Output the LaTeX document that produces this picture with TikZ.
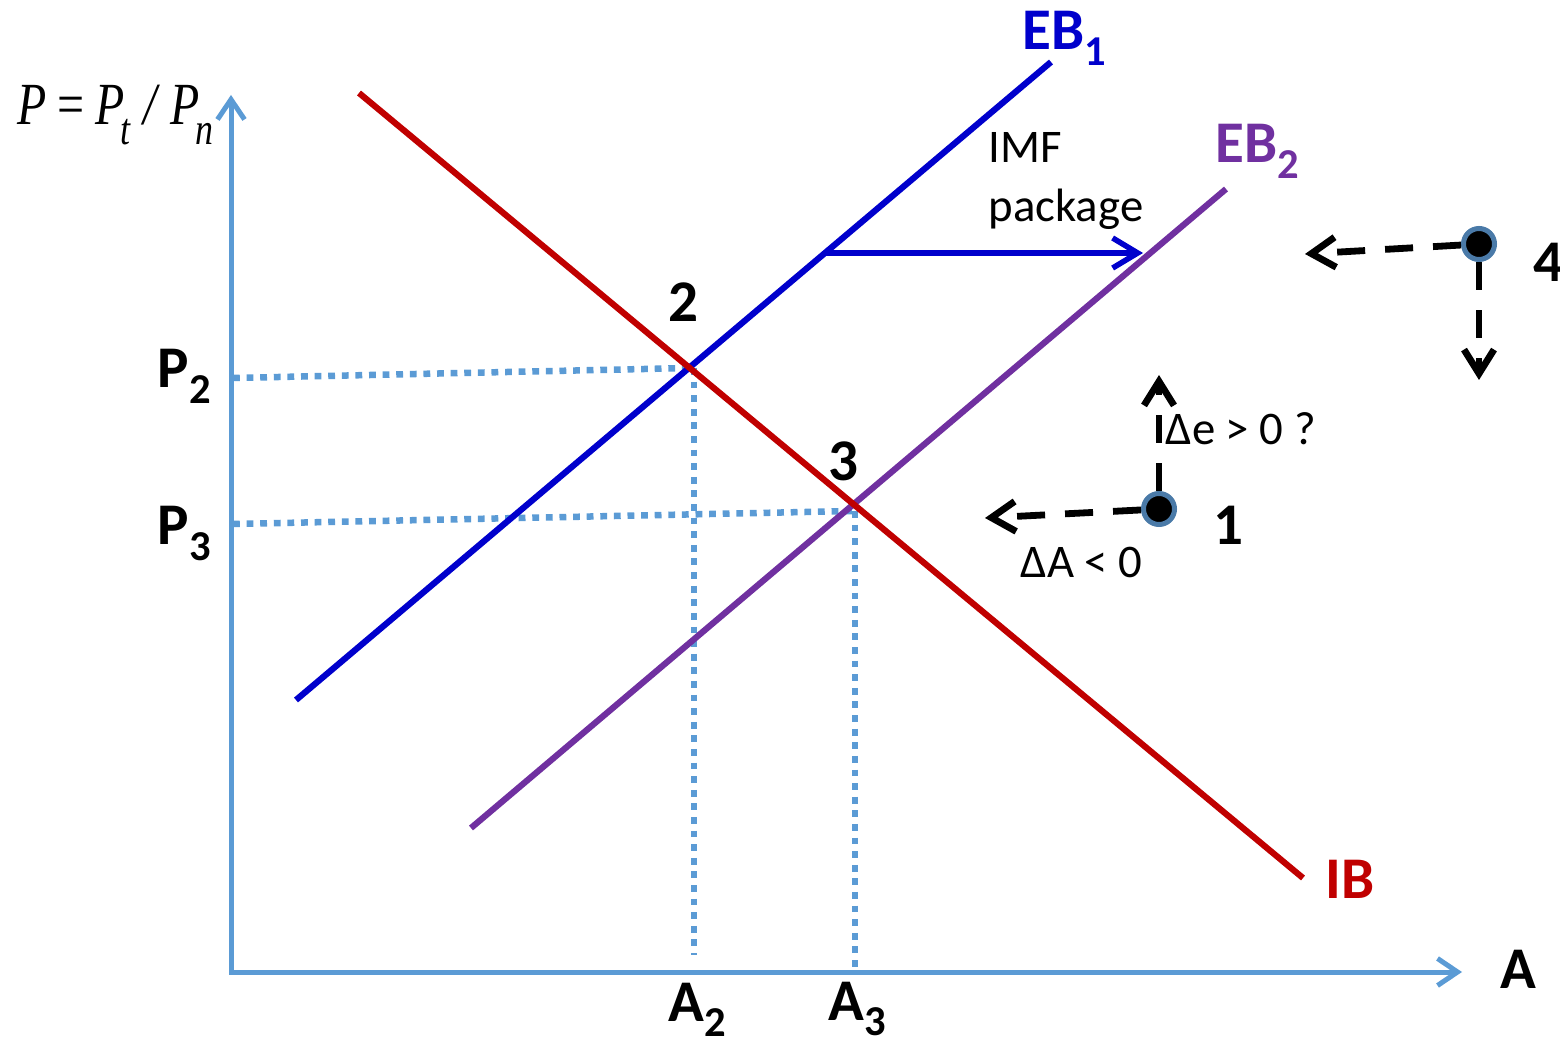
\documentclass[tikz,border=0pt]{standalone}
\usepackage{fontspec}
\setmainfont{Carlito}
\newfontfamily\eqfont{Liberation Serif}
\usetikzlibrary{arrows.meta}
\definecolor{axisblue}{HTML}{5B9BD5}
\definecolor{ibred}{HTML}{C00000}
\definecolor{ebblue}{HTML}{0000CC}
\definecolor{ebpurple}{HTML}{7030A0}
\definecolor{ringblue}{HTML}{4A7AA8}
\newcommand{\lsub}[1]{\raisebox{-0.26em}{\scalebox{0.72}{#1}}}
\newcommand{\esub}[1]{\raisebox{-0.32em}{\scalebox{0.75}{#1}}}
\tikzset{
  axisline/.style={draw=axisblue, line width=0.05cm, {Straight Barb[length=0.2cm,width=0.27cm]}-{Straight Barb[length=0.2cm,width=0.27cm]}},
  curveline/.style={line width=0.062cm},
  guide/.style={draw=axisblue, line width=0.065cm, dash pattern=on 0.068cm off 0.068cm},
  move/.style={draw=black, line width=0.068cm, dash pattern=on 0.28cm off 0.2cm, -{Straight Barb[length=0.24cm,width=0.3cm]}},
  state/.style={circle, fill=black, draw=ringblue, line width=0.05cm, minimum size=0.31cm, inner sep=0pt},
  lbl/.style={inner sep=0pt, anchor=base west, font=\bfseries\fontsize{16.8}{16.8}\selectfont},
  txt/.style={inner sep=0pt, anchor=base west, font=\fontsize{13.3}{13.3}\selectfont},
}
\begin{document}
\begin{tikzpicture}[x=0.01cm, y=-0.01cm]
\useasboundingbox (0,0) rectangle (1560,1043);
% axes
\coordinate (O) at (231,972);
\coordinate (Ytip) at (231,95);
\coordinate (Xtip) at (1462,972);
\draw[axisline] (Ytip) -- (O) -- (Xtip);
% key points
\coordinate (I2) at (690,368);
\coordinate (I3) at (853,505);
\coordinate (P2s) at (233,378);
\coordinate (P3s) at (233,524);
\coordinate (A2top) at (694,368);
\coordinate (A2bot) at (694,955);
\coordinate (A3top) at (855,511);
\coordinate (A3bot) at (855,972);
\coordinate (P3e) at (853,511);
% guides
\draw[guide] (P2s) -- (I2);
\draw[guide] (A2top) -- (A2bot);
\draw[guide] (P3s) -- (P3e);
\draw[guide] (A3top) -- (A3bot);
% curves
\coordinate (IBa) at (359,93);
\coordinate (IBb) at (1303,878);
\coordinate (EB1a) at (296,700);
\coordinate (EB1b) at (1051,62);
\coordinate (EB2a) at (471,828);
\coordinate (EB2b) at (1226,189);
\draw[curveline, draw=ebpurple] (EB2a) -- (EB2b);
\draw[curveline, draw=ebblue] (EB1a) -- (EB1b);
\draw[curveline, draw=ibred] (IBa) -- (IBb);
% IMF shift
\coordinate (IMFs) at (825,253);
\coordinate (IMFe) at (1143,253);
\draw[draw=ebblue, line width=0.055cm, -{Straight Barb[length=0.25cm,width=0.3cm]}] (IMFs) -- (IMFe);
% states
\node[state] (S1) at (1159,509) {};
\node[state] (S4) at (1479,244) {};
\coordinate (m1l) at (985,518);
\coordinate (m1u) at (1159,375);
\coordinate (m4l) at (1305,254);
\coordinate (m4d) at (1479,380);
\draw[move] (S1) -- (m1l);
\draw[move] (S1) -- (m1u);
\draw[move] (S4) -- (m4l);
\draw[move] (S4) -- (m4d);
% labels
\node[inner sep=0pt, anchor=base west, font=\eqfont\itshape\fontsize{17}{17}\selectfont] (plabel) at (17,125) {\scalebox{0.8}[1]{P\,=\,P\kern-0.08em\esub{t}\;/\;P\kern-0.08em\esub{n}}};
\node[lbl, text=ebblue] (lEB1) at (1022,50) {EB\lsub{1}};
\node[lbl, text=ebpurple] (lEB2) at (1215,163) {EB\lsub{2}};
\node[lbl, text=ibred] (lIB) at (1325,898) {IB};
\node[lbl] (lP2) at (157,388) {P\lsub{2}};
\node[lbl] (lP3) at (157,545) {P\lsub{3}};
\node[lbl] (lA2) at (668,1021) {A\lsub{2}};
\node[lbl] (lA3) at (828,1020) {A\lsub{3}};
\node[lbl] (lA) at (1500,988) {A};
\node[lbl] (l2) at (668,322) {2};
\node[lbl] (l3) at (828,481) {3};
\node[lbl] (l1) at (1213,545) {1};
\node[lbl] (l4) at (1533,282) {4};
\node[txt] (lIMF) at (988,163) {IMF};
\node[txt] (lpack) at (988,222) {package};
\node[txt] (lde) at (1165,445) {Δe > 0 ?};
\node[txt] (lda) at (1020,578) {ΔA < 0};
\end{tikzpicture}
\end{document}
